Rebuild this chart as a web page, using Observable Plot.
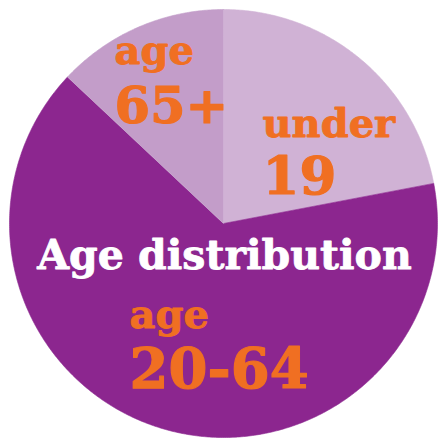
<!DOCTYPE html>
<html>
<head>
<meta charset="utf-8">
<script src="https://cdn.jsdelivr.net/npm/d3@7"></script>
<script src="https://cdn.jsdelivr.net/npm/@observablehq/plot@0.6"></script>
<style>
  html, body { margin: 0; padding: 0; background: #ffffff; }
  #chart svg { display: block; }
</style>
</head>
<body>
<div id="chart"></div>
<script>
// ---- data ----
const categories = ["under 19", "age 20-64", "age 65+"];
const values = [22, 65, 13];
const sliceColors = ["#d0b2d5", "#8c268f", "#c39dc9"];
const labelTop = ["under", "age", "age"];
const labelBottom = ["19", "20-64", "65+"];
const title = "Age distribution";

// ---- layout ----
const W = 438, H = 440;
const cx = 223, cy = 223, R = 214;
// label anchor (left x, baseline of first line, baseline of second line, second-line size)
const labelLayout = [
  {x: 262, y1: 136, y2: 193, s2: 53},
  {x: 129, y1: 327, y2: 387, s2: 56},
  {x: 114, y1: 63, y2: 122, s2: 51}
];

const pie = d3.pie().sort(null).value(d => d)(values);
const slicePts = [];
pie.forEach((p, i) => {
  slicePts.push({cat: categories[i], x: cx, y: cy});
  const steps = Math.max(2, Math.ceil((p.endAngle - p.startAngle) / (Math.PI / 360)));
  for (let k = 0; k <= steps; k++) {
    const a = p.startAngle + (p.endAngle - p.startAngle) * k / steps;
    slicePts.push({cat: categories[i], x: cx + R * Math.sin(a), y: cy - R * Math.cos(a)});
  }
});

const labels1 = categories.map((c, i) => ({cat: c, text: labelTop[i], x: labelLayout[i].x, y: labelLayout[i].y1}));
const labels2 = categories.map((c, i) => ({cat: c, text: labelBottom[i], x: labelLayout[i].x, y: labelLayout[i].y2, s: labelLayout[i].s2}));

const font = "DejaVu Serif";
const orange = "#f06f22";

const chart = Plot.plot({
  width: W,
  height: H,
  margin: 0,
  style: {background: "#ffffff", overflow: "visible"},
  x: {domain: [0, W], range: [0, W], axis: null},
  y: {domain: [0, H], range: [0, H], axis: null},
  color: {domain: categories, range: sliceColors},
  marks: [
    Plot.line(slicePts, {x: "x", y: "y", z: "cat", fill: "cat", stroke: "cat", strokeWidth: 0.6, curve: "linear"}),
    Plot.text(labels1, {x: "x", y: "y", text: "text", textAnchor: "start", lineAnchor: "bottom",
      fill: orange, stroke: orange, strokeWidth: 0.9, fontFamily: font, fontWeight: "bold", fontSize: 40}),
    Plot.text(labels2, {x: "x", y: "y", text: "text", textAnchor: "start", lineAnchor: "bottom",
      fill: orange, stroke: orange, strokeWidth: 1.2, fontFamily: font, fontWeight: "bold", fontSize: d => d.s}),
    Plot.text([title], {x: [224], y: [268], text: d => d, textAnchor: "middle", lineAnchor: "bottom",
      fill: "#ffffff", stroke: "#ffffff", strokeWidth: 0.8, fontFamily: font, fontWeight: "bold", fontSize: 41})
  ]
});
document.getElementById("chart").appendChild(chart);
</script>
</body>
</html>
